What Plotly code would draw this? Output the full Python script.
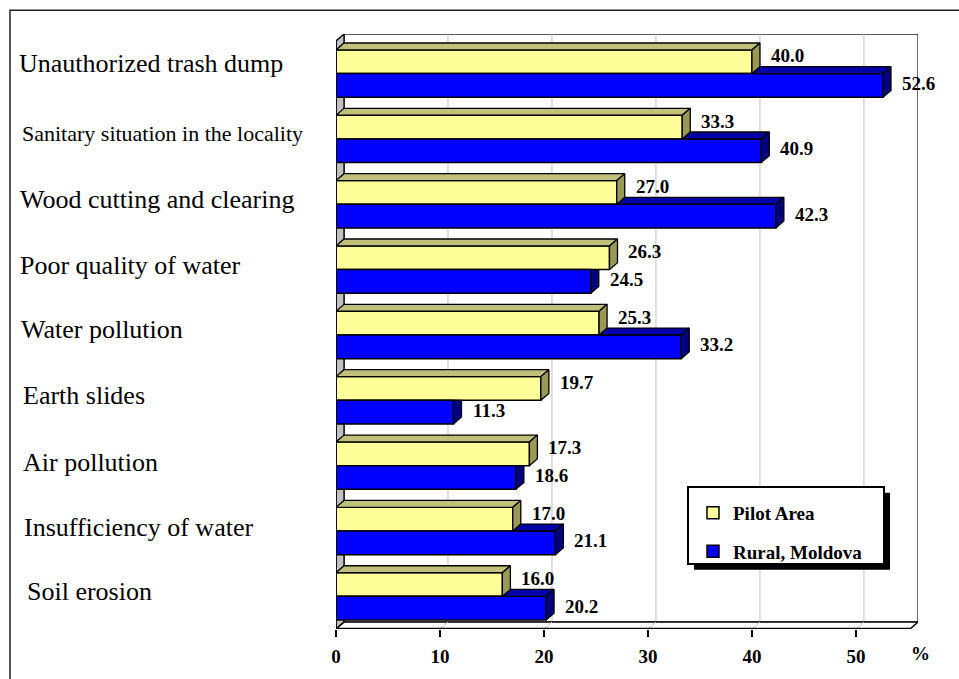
import plotly.graph_objects as go

# ---------------- data ----------------
categories = [
    "Unauthorized trash dump",
    "Sanitary situation in the locality",
    "Wood cutting and clearing",
    "Poor quality of water",
    "Water pollution",
    "Earth slides",
    "Air pollution",
    "Insufficiency of water",
    "Soil erosion",
]
# bar lengths as drawn in the picture
pilot_values = [40.0, 33.3, 27.0, 26.3, 25.3, 19.7, 18.6, 17.0, 16.0]
rural_values = [52.6, 40.9, 42.3, 24.5, 33.2, 11.3, 17.3, 21.1, 20.2]
# value labels as printed in the picture
pilot_labels = ["40.0", "33.3", "27.0", "26.3", "25.3", "19.7", "17.3", "17.0", "16.0"]
rural_labels = ["52.6", "40.9", "42.3", "24.5", "33.2", "11.3", "18.6", "21.1", "20.2"]
series_names = ["Pilot Area", "Rural, Moldova"]
x_ticks = [0, 10, 20, 30, 40, 50]

# ---------------- styling / geometry ----------------
W, H = 959, 679
ML, MR, MT, MB = 336, 41, 34, 42
PW, PH = W - ML - MR, H - MT - MB
DX_PX, DY_PX = 8, 7
X_FRONT = 55.2
n = len(categories)
x_unit = (PW - DX_PX) / X_FRONT
dxu = DX_PX / x_unit
y_unit = (PH - DY_PX) / n
dyu = DY_PX / y_unit
BW = 24 / y_unit

SERIF = "Liberation Serif, Times New Roman, serif"
YEL, YEL_TOP, YEL_SIDE = "#ffff99", "#c0c07a", "#999955"
BLU, BLU_TOP, BLU_SIDE = "#0000ff", "#0000a8", "#000080"


def px_to_paper_x(px):
    return (px - ML) / PW


def px_to_paper_y(py):
    return (H - MB - py) / PH


fig = go.Figure()

# front faces (bars)
fig.add_trace(go.Bar(
    y=list(range(n)), x=pilot_values, orientation="h", width=BW, offset=-BW,
    marker=dict(color=YEL, line=dict(color="black", width=1.5)),
    name=f"<b>{series_names[0]}</b>", legendgroup="a", hoverinfo="skip"))
fig.add_trace(go.Bar(
    y=list(range(n)), x=rural_values, orientation="h", width=BW, offset=0,
    marker=dict(color=BLU, line=dict(color="black", width=1.5)),
    name=f"<b>{series_names[1]}</b>", legendgroup="b", hoverinfo="skip"))

# 3D faces
faces = {"yt": ([], []), "ys": ([], []), "bt": ([], []), "bs": ([], [])}


def add_poly(key, pts):
    xs, ys = faces[key]
    for px, py in pts + [pts[0]]:
        xs.append(px)
        ys.append(py)
    xs.append(None)
    ys.append(None)


for i, (p, r) in enumerate(zip(pilot_values, rural_values)):
    yt, ym, yb = i - BW, i, i + BW
    add_poly("yt", [(0, yt), (p, yt), (p + dxu, yt - dyu), (dxu, yt - dyu)])
    add_poly("ys", [(p, yt), (p + dxu, yt - dyu), (p + dxu, ym - dyu), (p, ym)])
    if r > p:
        add_poly("bt", [(p, ym), (r, ym), (r + dxu, ym - dyu), (p + dxu, ym - dyu)])
        add_poly("bs", [(r, ym), (r + dxu, ym - dyu), (r + dxu, yb - dyu), (r, yb)])
    else:
        add_poly("bs", [(r, ym), (r + dxu, ym), (r + dxu, yb - dyu), (r, yb)])

for key, col in [("bt", BLU_TOP), ("bs", BLU_SIDE), ("yt", YEL_TOP), ("ys", YEL_SIDE)]:
    xs, ys = faces[key]
    fig.add_trace(go.Scatter(x=xs, y=ys, mode="lines", fill="toself", fillcolor=col,
                             line=dict(color="black", width=1.3), showlegend=False,
                             hoverinfo="skip"))

shapes = []
ytop_f, ybot_f = -0.5, n - 0.5
# back wall
shapes.append(dict(type="rect", xref="x", yref="y", x0=dxu, x1=X_FRONT + dxu,
                   y0=ytop_f - dyu, y1=ybot_f - dyu, fillcolor="white",
                   line=dict(color="#202020", width=1.3), layer="below"))
# gridlines on back wall and floor
for v in x_ticks[1:]:
    shapes.append(dict(type="line", xref="x", yref="y", x0=v + dxu, x1=v + dxu,
                       y0=ytop_f - dyu, y1=ybot_f - dyu,
                       line=dict(color="#c0c0c0", width=1), layer="below"))
# left wall
shapes.append(dict(type="path", xref="x", yref="y",
                   path=f"M 0 {ytop_f} L {dxu} {ytop_f - dyu} L {dxu} {ybot_f - dyu} L 0 {ybot_f} Z",
                   fillcolor="#c0c0c0", line=dict(color="black", width=1.3), layer="below"))
# floor
shapes.append(dict(type="path", xref="x", yref="y",
                   path=f"M 0 {ybot_f} L {X_FRONT} {ybot_f} L {X_FRONT + dxu} {ybot_f - dyu} L {dxu} {ybot_f - dyu} Z",
                   fillcolor="white", line=dict(color="black", width=1.5), layer="below"))
for v in x_ticks[1:]:
    shapes.append(dict(type="line", xref="x", yref="y", x0=v, x1=v + dxu,
                       y0=ybot_f, y1=ybot_f - dyu,
                       line=dict(color="#c0c0c0", width=1), layer="below"))
# front axis line + left edge
shapes.append(dict(type="line", xref="x", yref="y", x0=0, x1=X_FRONT, y0=ybot_f, y1=ybot_f,
                   line=dict(color="black", width=2.5)))
shapes.append(dict(type="line", xref="x", yref="y", x0=0, x1=0, y0=ytop_f, y1=ybot_f,
                   line=dict(color="black", width=1.5)))
# outer frame
shapes.append(dict(type="rect", xref="paper", yref="paper",
                   x0=px_to_paper_x(10), x1=px_to_paper_x(990),
                   y0=px_to_paper_y(10), y1=px_to_paper_y(700),
                   line=dict(color="#202020", width=1.5), layer="below"))
# legend box with shadow
LX0, LY0, LX1, LY1 = 688, 493, 884, 571
shapes.append(dict(type="rect", xref="paper", yref="paper",
                   x0=px_to_paper_x(LX0 + 6), x1=px_to_paper_x(LX1 + 6),
                   y0=px_to_paper_y(LY0 + 6), y1=px_to_paper_y(LY1 + 6),
                   fillcolor="black", line=dict(width=0), layer="above"))
shapes.append(dict(type="rect", xref="paper", yref="paper",
                   x0=px_to_paper_x(LX0), x1=px_to_paper_x(LX1),
                   y0=px_to_paper_y(LY0), y1=px_to_paper_y(LY1),
                   fillcolor="white", line=dict(color="black", width=2), layer="above"))

annotations = []
label_left = [17, 20, 18, 18, 19, 21, 21, 22, 25]
label_shift = [10, 5, 5, 4, 5, 5, 3, 3, 5]
label_size = [26, 22, 26, 26, 26, 26, 26, 26, 26]
for i, c in enumerate(categories):
    annotations.append(dict(x=0, y=i, xref="x", yref="y", text=c, showarrow=False,
                            xanchor="left", yanchor="middle", xshift=label_left[i] - ML,
                            yshift=label_shift[i],
                            font=dict(family=SERIF, size=label_size[i], color="black")))
for i in range(n):
    annotations.append(dict(x=pilot_values[i] + dxu, y=i - BW / 2, xref="x", yref="y",
                            text=f"<b>{pilot_labels[i]}</b>", showarrow=False,
                            xanchor="left", yanchor="middle", xshift=9, yshift=6,
                            font=dict(family=SERIF, size=19, color="black")))
    annotations.append(dict(x=rural_values[i] + dxu, y=i + BW / 2, xref="x", yref="y",
                            text=f"<b>{rural_labels[i]}</b>", showarrow=False,
                            xanchor="left", yanchor="middle", xshift=9, yshift=2,
                            font=dict(family=SERIF, size=19, color="black")))
annotations.append(dict(x=X_FRONT, y=0, xref="x", yref="paper", text="<b>%</b>",
                        showarrow=False, xanchor="left", yanchor="middle", xshift=-1,
                        yshift=-24, font=dict(family=SERIF, size=19, color="black")))

fig.update_layout(
    width=W, height=H,
    margin=dict(l=ML, r=MR, t=MT, b=MB, pad=0),
    paper_bgcolor="white", plot_bgcolor="rgba(0,0,0,0)",
    barmode="overlay",
    showlegend=True,
    legend=dict(x=px_to_paper_x(693), y=px_to_paper_y(500), xanchor="left", yanchor="top",
                bgcolor="rgba(0,0,0,0)", borderwidth=0,
                font=dict(family=SERIF, size=19, color="black"),
                traceorder="grouped", tracegroupgap=11, itemclick=False),
    xaxis=dict(range=[0, X_FRONT + dxu], tickvals=x_ticks,
               ticktext=[f"<b>{v}</b>" for v in x_ticks],
               showgrid=False, zeroline=False, showline=False,
               ticks="outside", ticklen=7, tickwidth=2, tickcolor="black",
               ticklabelstandoff=3,
               tickfont=dict(family=SERIF, size=19, color="black")),
    yaxis=dict(range=[n - 0.5, -0.5 - dyu], showgrid=False, zeroline=False,
               showline=False, showticklabels=False, ticks=""),
    shapes=shapes,
    annotations=annotations,
)

fig.write_html("out.html")
